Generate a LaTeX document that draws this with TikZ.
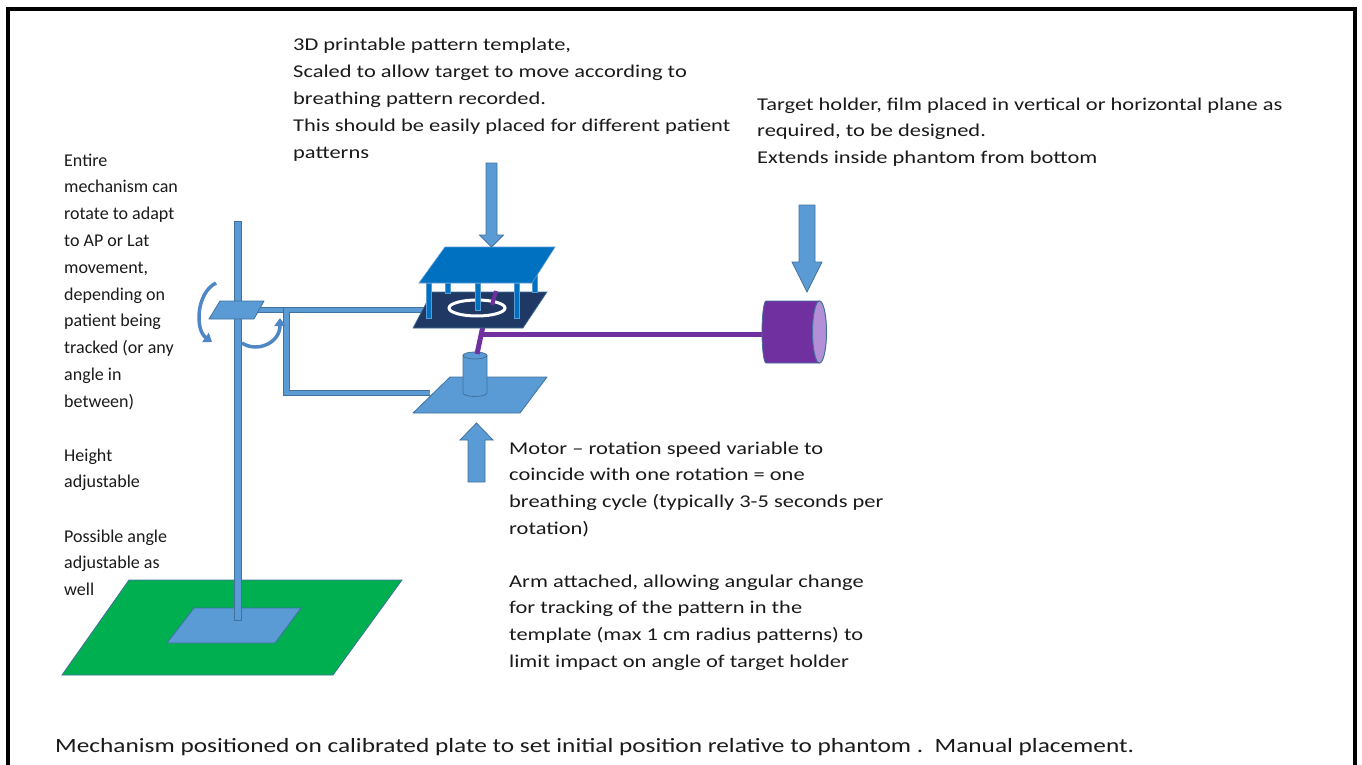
\documentclass[tikz,border=0pt]{standalone}
\usepackage{fontspec}
\setmainfont{Carlito}[FakeStretch=1.247]
\newfontfamily\plainfont{Carlito}
\usetikzlibrary{arrows.meta}

\definecolor{lb}{HTML}{5B9BD5}
\definecolor{lbd}{HTML}{41719C}
\definecolor{mb}{HTML}{0070C0}
\definecolor{navy}{HTML}{1F3864}
\definecolor{pur}{HTML}{7030A0}
\definecolor{grn}{HTML}{00B050}
\definecolor{lav}{HTML}{B28FD6}
\definecolor{rot}{HTML}{4F87C4}
\definecolor{ink}{HTML}{1A1A1A}

\tikzset{
  % multi-line labels: the base anchor sits on the last line's baseline
  txt/.style={font=\fontsize{18}{26.8}\selectfont, align=left, anchor=base west, inner sep=0pt, text=ink},
  sidetxt/.style={txt, font=\plainfont\fontsize{18}{26.8}\selectfont},
  plate/.style={fill=lb, draw=lbd, line width=0.8pt, line join=round},
  bar/.style={draw=lbd, double=lb, double distance=4.5pt, line width=0.8pt},
  blockarrow/.style={fill=lb, draw=lbd, line width=0.8pt, line join=miter},
  rotarrow/.style={draw=rot, line width=3.5pt, -{Triangle[length=8pt,width=11pt]}},
  leg/.style={fill=mb, draw=lb, line width=0.6pt},
}

\begin{document}
\begin{tikzpicture}[x=1pt,y=-1pt]
\useasboundingbox (0,0) rectangle (1362,765);

% outer frame (open at the bottom)
\draw[line width=3.8pt] (7.7,765) -- (7.7,9.2) -- (1355.3,9.2) -- (1355.3,765);

% calibrated base plate with stand foot
\draw[fill=grn, draw=lbd, line width=0.8pt] (129,580) -- (402,580) -- (333,675) -- (62,675) -- cycle;
\draw[plate] (194,608) -- (301,608) -- (275,643) -- (167,643) -- cycle;

% vertical pole
\draw[plate] (234,221) rectangle (241,620);

% bracket arms from the clamp to the template and motor plates
\draw[bar] (256,310) -- (290,310);
\draw[bar] (430,310) -- (286.5,310) -- (286.5,393) -- (430,393);

% clamp on pole
\draw[plate] (220,301) -- (264,301) -- (254,319) -- (209,319) -- cycle;

% rotation arrows
\draw[rotarrow] (216,283) .. controls (196,293) and (195,330) .. (212,342);
\draw[rotarrow] (242,343) .. controls (257,353) and (280,343) .. (280,318);

% motor plate and motor
\draw[plate] (450,377) -- (547,377) -- (520,413) -- (413,413) -- cycle;
\draw[plate] (463,355.5) -- (463,393) arc[start angle=180, end angle=360, x radius=12pt, y radius=3.5pt] -- (487,355.5);
\draw[plate] (475,355.5) ellipse [x radius=12pt, y radius=3.5pt];

% purple arm and rod to the target holder
\draw[pur, line width=5pt] (483,326) -- (477,354);
\draw[pur, line width=5pt] (483,334) -- (766,334);

% target holder cylinder
\draw[fill=pur, draw=lbd, line width=0.8pt] (819.5,301) -- (766,301)
  arc[start angle=90, end angle=270, x radius=4pt, y radius=31pt] -- (819.5,363);
\draw[fill=lav, draw=lbd, line width=1pt] (819.5,332) ellipse [x radius=7pt, y radius=31pt];

% pattern plate with ring track and follower pin
\draw[fill=navy, draw=lbd, line width=0.6pt] (432,292) -- (547,292) -- (523,328) -- (413,328) -- cycle;
\draw[white, line width=3pt] (477,308) ellipse [x radius=28pt, y radius=8pt];
\draw[pur, line width=4pt] (496,291) -- (492,305);

% template legs and top plate
\draw[leg] (445,283) rectangle (450,293);
\draw[leg] (532,270) rectangle (537,292);
\draw[leg] (426.5,283) rectangle (431.5,318);
\draw[leg] (475,283) rectangle (480,310);
\draw[leg] (514,283) rectangle (519,318);
\draw[fill=mb, draw=lb, line width=0.6pt] (445,247) -- (555,247) -- (532,283) -- (419,283) -- cycle;

% block arrows
\draw[blockarrow] (486,163) -- (497,163) -- (497,235) -- (503.5,235) -- (491.5,247) -- (479.5,235) -- (486,235) -- cycle;
\draw[blockarrow] (799,205) -- (815,205) -- (815,262) -- (822,262) -- (807,292) -- (792,262) -- (799,262) -- cycle;
\draw[blockarrow] (468,482) -- (485,482) -- (485,440) -- (493,440) -- (476.5,423) -- (460,440) -- (468,440) -- cycle;

% labels
\node[txt] (tpl) at (293,158.2) {3D printable pattern template,\\Scaled to allow target to move according to\\breathing pattern recorded.\\This should be easily placed for different patient\\patterns};
\node[txt] (holder) at (757,163.6) {Target holder, film placed in vertical or horizontal plane as\\required, to be designed.\\Extends inside phantom from bottom};
\node[sidetxt] (rotate) at (64,407.2) {Entire\\mechanism can\\rotate to adapt\\to AP or Lat\\movement,\\depending on\\patient being\\tracked (or any\\angle in\\between)};
\node[sidetxt] (height) at (64,487.8) {Height\\adjustable};
\node[sidetxt] (angle) at (64,595.6) {Possible angle\\adjustable as\\well};
\node[txt] (motor) at (509,534.4) {Motor -- rotation speed variable to\\coincide with one rotation = one\\breathing cycle (typically 3-5 seconds per\\rotation)};
\node[txt] (arm) at (509,667.4) {Arm attached, allowing angular change\\for tracking of the pattern in the\\template (max 1 cm radius patterns) to\\limit impact on angle of target holder};
\node[txt, font=\fontsize{20.3}{26}\selectfont] (base) at (55,752) {Mechanism positioned on calibrated plate to set initial position relative to phantom .\ \ Manual placement.};
\end{tikzpicture}
\end{document}
